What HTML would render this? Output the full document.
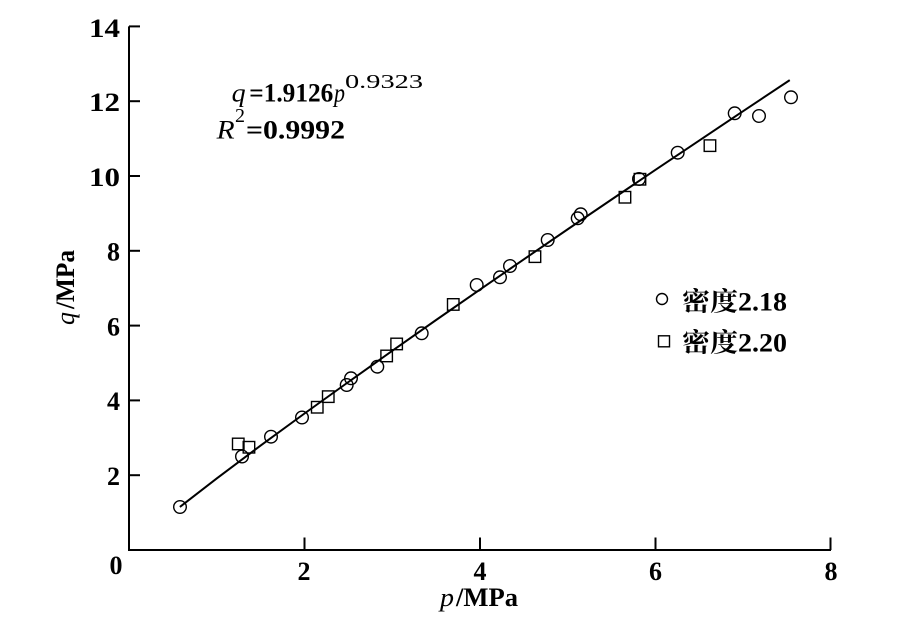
<!DOCTYPE html>
<html>
<head>
<meta charset="utf-8">
<style>
  html, body { margin: 0; padding: 0; background: #fff; }
  svg { display: block; }
  .tick { font-family: "Liberation Serif", serif; font-weight: bold; font-size: 26px; fill: #000; }
  .it { font-family: "Liberation Serif", serif; font-style: italic; font-size: 26px; fill: #000; }
  .bd { font-family: "Liberation Serif", serif; font-weight: bold; font-size: 26px; fill: #000; }
  .rg { font-family: "Liberation Serif", serif; font-size: 20px; fill: #000; }
  .lg { font-family: "Liberation Serif", "Noto Serif CJK SC", serif; font-weight: bold; font-size: 26px; fill: #000; }
</style>
</head>
<body>
<svg width="905" height="629" viewBox="0 0 905 629" xmlns="http://www.w3.org/2000/svg">
  <rect width="905" height="629" fill="#fff"/>

  <g stroke="#000" stroke-width="2" fill="none">
    <polyline points="129,26.4 129,550 831,550"/>
    <line x1="129" y1="26.4" x2="140" y2="26.4"/>
    <line x1="129" y1="101.2" x2="140" y2="101.2"/>
    <line x1="129" y1="176" x2="140" y2="176"/>
    <line x1="129" y1="250.8" x2="140" y2="250.8"/>
    <line x1="129" y1="325.6" x2="140" y2="325.6"/>
    <line x1="129" y1="400.4" x2="140" y2="400.4"/>
    <line x1="129" y1="475.2" x2="140" y2="475.2"/>
    <line x1="304.5" y1="550" x2="304.5" y2="537.5"/>
    <line x1="480" y1="550" x2="480" y2="537.5"/>
    <line x1="655.5" y1="550" x2="655.5" y2="537.5"/>
    <line x1="830.5" y1="550" x2="830.5" y2="537.5"/>
  </g>

  <g class="tick">
    <text x="89" y="37" textLength="31" lengthAdjust="spacingAndGlyphs">14</text>
    <text x="89" y="111" textLength="31" lengthAdjust="spacingAndGlyphs">12</text>
    <text x="89" y="186" textLength="31" lengthAdjust="spacingAndGlyphs">10</text>
  </g>
  <g class="tick" text-anchor="end">
    <text x="120" y="260.5">8</text>
    <text x="120" y="335.3">6</text>
    <text x="120" y="410">4</text>
    <text x="120" y="484.8">2</text>
  </g>
  <g class="tick" text-anchor="middle">
    <text x="116" y="574">0</text>
    <text x="304" y="580">2</text>
    <text x="480" y="580">4</text>
    <text x="655.5" y="580">6</text>
    <text x="831" y="580">8</text>
  </g>

  <text class="it" x="440" y="606" textLength="14" lengthAdjust="spacingAndGlyphs">p</text>
  <text class="bd" x="456" y="606" textLength="62" lengthAdjust="spacingAndGlyphs">/MPa</text>

  <g transform="translate(74,325) rotate(-90)">
    <text class="it" x="0" y="0" textLength="13" lengthAdjust="spacingAndGlyphs">q</text>
    <text class="bd" x="16" y="0" textLength="59" lengthAdjust="spacingAndGlyphs">/MPa</text>
  </g>

  <text class="it" x="231.7" y="101.7" textLength="14" lengthAdjust="spacingAndGlyphs">q</text>
  <text class="bd" x="249.3" y="101.7" textLength="84" lengthAdjust="spacingAndGlyphs">=1.9126</text>
  <text class="it" x="334" y="101.7" textLength="11" lengthAdjust="spacingAndGlyphs">p</text>
  <text class="rg" x="345" y="88" textLength="78" lengthAdjust="spacingAndGlyphs">0.9323</text>

  <text class="it" x="216.7" y="138.3" textLength="18" lengthAdjust="spacingAndGlyphs">R</text>
  <text class="rg" x="235" y="122" textLength="10" lengthAdjust="spacingAndGlyphs">2</text>
  <text class="bd" x="246" y="138.3" textLength="99" lengthAdjust="spacingAndGlyphs">=0.9992</text>

  <polyline fill="none" stroke="#000" stroke-width="2"
    points="179.9,506.95 216.75,478.47 260.6,445.61 304.5,413.5 348.4,382.0 392.25,350.79 436.1,320.0 480,289.51 523.9,259.3 567.75,229.26 611.6,199.5 655.5,169.82 699.4,140.4 743.25,111.06 789.76,80.13"/>

  <g fill="none" stroke="#000" stroke-width="1.4">
    <circle cx="180" cy="507" r="6.3"/>
    <circle cx="242" cy="456.5" r="6.3"/>
    <circle cx="271" cy="436.7" r="6.3"/>
    <circle cx="302" cy="417.5" r="6.3"/>
    <circle cx="346.7" cy="385" r="6.3"/>
    <circle cx="351" cy="378.3" r="6.3"/>
    <circle cx="377.3" cy="366.7" r="6.3"/>
    <circle cx="421.7" cy="333.3" r="6.3"/>
    <circle cx="476.7" cy="285" r="6.3"/>
    <circle cx="500" cy="277.3" r="6.3"/>
    <circle cx="510" cy="266" r="6.3"/>
    <circle cx="547.7" cy="240" r="6.3"/>
    <circle cx="577.7" cy="218.3" r="6.3"/>
    <circle cx="580.7" cy="214.3" r="6.3"/>
    <circle cx="639" cy="179" r="6.3"/>
    <circle cx="677.7" cy="152.7" r="6.3"/>
    <circle cx="734.7" cy="113.3" r="6.3"/>
    <circle cx="759" cy="116" r="6.3"/>
    <circle cx="791" cy="97.3" r="6.3"/>
  </g>

  <g fill="none" stroke="#000" stroke-width="1.4">
    <rect x="232.5" y="438.2" width="11.5" height="11.5"/>
    <rect x="243.2" y="441.5" width="11.5" height="11.5"/>
    <rect x="311.5" y="401.5" width="11.5" height="11.5"/>
    <rect x="322.5" y="390.9" width="11.5" height="11.5"/>
    <rect x="380.9" y="350.2" width="11.5" height="11.5"/>
    <rect x="390.9" y="338.2" width="11.5" height="11.5"/>
    <rect x="447.5" y="298.7" width="11.5" height="11.5"/>
    <rect x="529.2" y="250.9" width="11.5" height="11.5"/>
    <rect x="619.2" y="191.5" width="11.5" height="11.5"/>
    <rect x="634.2" y="173.5" width="11.5" height="11.5"/>
    <rect x="704.2" y="139.9" width="11.5" height="11.5"/>
  </g>

  <circle cx="662" cy="299" r="5.5" fill="none" stroke="#000" stroke-width="1.4"/>
  <rect x="658.5" y="335.8" width="11" height="11" fill="none" stroke="#000" stroke-width="1.4"/>
  <text class="lg" x="682" y="310.7" textLength="105" lengthAdjust="spacingAndGlyphs">密度2.18</text>
  <text class="lg" x="682" y="351.7" textLength="105" lengthAdjust="spacingAndGlyphs">密度2.20</text>
</svg>
</body>
</html>
